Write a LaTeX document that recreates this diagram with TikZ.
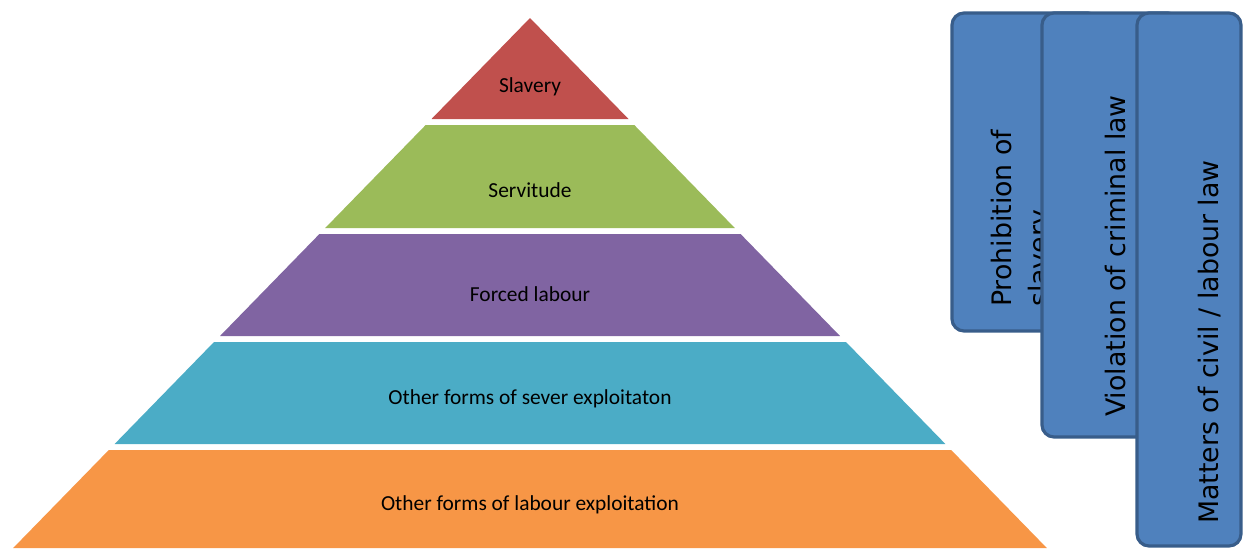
\documentclass[tikz,border=0pt]{standalone}
\usepackage{fontspec}
\setmainfont{Carlito}
\newfontfamily\boxfont{DejaVu Sans}
\definecolor{slaveryred}{HTML}{C0504D}
\definecolor{servitudegreen}{HTML}{9BBB59}
\definecolor{forcedpurple}{HTML}{8064A2}
\definecolor{severeteal}{HTML}{4BACC6}
\definecolor{labourorange}{HTML}{F79646}
\definecolor{lawblue}{HTML}{4F81BD}
\definecolor{lawborder}{HTML}{385D8A}
\tikzset{
  layertext/.style={font=\fontsize{10.7}{12}\selectfont, text=black},
  lawbox/.style={fill=lawblue, draw=lawborder, line width=1.6pt, rounded corners=6pt},
  lawtext/.style={rotate=90, font=\boxfont\fontsize{13.4}{18.5}\selectfont, text=black, align=left}
}
\begin{document}
\begin{tikzpicture}[x=0.5pt,y=-0.5pt]
  \useasboundingbox (0,0) rectangle (1243,548);
  % pyramid layers, top to bottom
  \fill[slaveryred] (530,18) -- (628.5,119) -- (431.5,119) -- cycle;
  \fill[servitudegreen] (425.7,125) -- (634.3,125) -- (734.8,228) -- (325.2,228) -- cycle;
  \fill[forcedpurple] (319.4,234) -- (740.6,234) -- (840,336) -- (220,336) -- cycle;
  \fill[severeteal] (214,342) -- (846,342) -- (945.4,444) -- (114.6,444) -- cycle;
  \fill[labourorange] (108.8,450) -- (951.2,450) -- (1046.8,548) -- (13.2,548) -- cycle;
  \node[layertext] (slavery) at (530,87) {Slavery};
  \node[layertext] (servitude) at (530,190) {Servitude};
  \node[layertext] (forced) at (530,294) {Forced labour};
  \node[layertext] (severe) at (530,399) {Other forms of sever exploitaton};
  \node[layertext] (labour) at (530,505) {Other forms of labour exploitation};
  % legal categories, each one on top of the previous
  \draw[lawbox] (952,13) rectangle (1100,331);
  \node[lawtext, anchor=north west] (prohib) at (984,314) {Prohibition of\\slavery};
  \draw[lawbox] (1042,13) rectangle (1180,437);
  \node[lawtext] (criminal) at (1115,256) {Violation of criminal law};
  \draw[lawbox] (1137,13) rectangle (1241,546);
  \node[lawtext] (civil) at (1210,342) {Matters of civil / labour law};
\end{tikzpicture}
\end{document}
